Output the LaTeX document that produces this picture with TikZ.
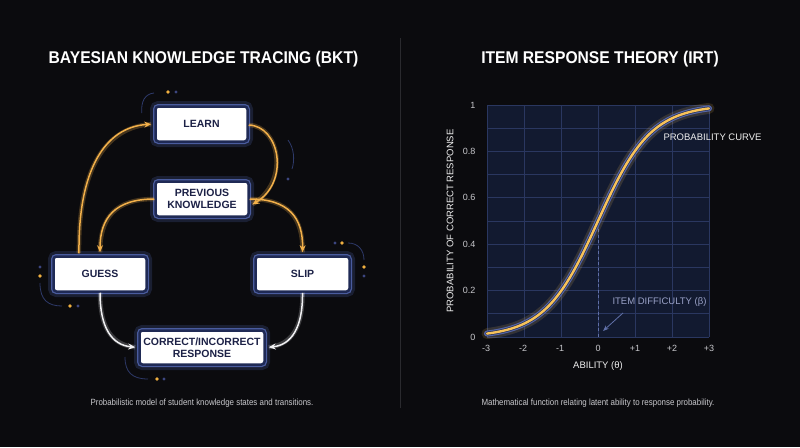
\documentclass[tikz,border=0pt]{standalone}
\usepackage{fontspec}
\setmainfont{Liberation Sans}
\newfontfamily\titlefont{Liberation Sans}[FakeStretch=0.92]
\newfontfamily\capfont{Liberation Sans}[FakeStretch=0.88]
\usetikzlibrary{arrows.meta}
\definecolor{bg}{HTML}{0B0B0E}
\definecolor{boxnavy}{HTML}{1F2A55}
\definecolor{boxrim}{HTML}{4A5C9E}
\definecolor{textnavy}{HTML}{1C2146}
\definecolor{arrorange}{HTML}{F2B04A}
\definecolor{arrwhite}{HTML}{F0F0F2}
\definecolor{dotorange}{HTML}{F0B040}
\definecolor{dotblue}{HTML}{3C4680}
\definecolor{decoline}{HTML}{2E3A6A}
\definecolor{gridfill}{HTML}{121A30}
\definecolor{gridline}{HTML}{2A3760}
\definecolor{labgray}{HTML}{C8C8CC}
\definecolor{dashblue}{HTML}{6070A8}
\definecolor{divider}{HTML}{2A2A2E}
\definecolor{curveblue}{HTML}{5566AA}
\definecolor{curveorange}{HTML}{F7C25A}
\definecolor{difftext}{HTML}{9AA2C8}
\begin{document}
\begin{tikzpicture}[x=1pt,y=-1pt,
  box/.style={rectangle, rounded corners=3pt, fill=white, draw=boxnavy, line width=2.5pt,
    text=textnavy, font=\bfseries\fontsize{10.5}{12.5}\selectfont, align=center, inner sep=0pt,
    preaction={draw=boxrim, draw opacity=0.25, line width=11pt},
    preaction={draw=boxrim, line width=5pt}},
  orangearrow/.style={draw=arrorange, line width=1.5pt, -{Stealth[length=7pt,width=6pt]},
    shorten >=3pt, preaction={draw=arrorange, draw opacity=0.25, line width=4.5pt, -}},
  whitearrow/.style={draw=arrwhite, line width=1.5pt, -{Stealth[length=7pt,width=6pt]},
    shorten >=3pt, preaction={draw=white, draw opacity=0.2, line width=4.5pt, -}},
  deco/.style={draw=decoline, line width=0.8pt},
  odot/.style={fill=dotorange},
  bdot/.style={fill=dotblue},
  title/.style={text=white, font=\titlefont\bfseries\fontsize{17}{20}\selectfont},
  caption/.style={text=labgray, font=\capfont\fontsize{9}{11}\selectfont},
  ticklab/.style={text=labgray, font=\fontsize{9}{11}\selectfont},
  axlab/.style={text=white!88!gray, font=\fontsize{9.5}{11}\selectfont}
]
\fill[bg] (0,0) rectangle (800,447);
\useasboundingbox (0,0) rectangle (800,447);

% divider
\draw[divider, line width=1pt] (400,38) -- (400,408);

% titles
\node[title] (t1) at (203.5,59) {BAYESIAN KNOWLEDGE TRACING (BKT)};
\node[title] (t2) at (600,59) {ITEM RESPONSE THEORY (IRT)};

% captions
\node[caption] (c1) at (202,403) {Probabilistic model of student knowledge states and transitions.};
\node[caption] (c2) at (598,403) {Mathematical function relating latent ability to response probability.};

% ---------------- BKT ----------------
% decorations
\draw[deco] (141.7,113) .. controls (141,101) and (145,94) .. (154,93);
\fill[odot] (168,92) circle (1.8);
\fill[bdot] (176,92) circle (1.6);
\draw[deco] (288,140) .. controls (294,148) and (295,160) .. (292,169);
\fill[bdot] (288,179) circle (1.7);
\fill[bdot] (335,243) circle (1.6);
\fill[odot] (342,243) circle (1.8);
\draw[deco] (348,243) .. controls (358,243) and (364,250) .. (364,260);
\fill[odot] (364,267) circle (1.8);
\fill[bdot] (364,276) circle (1.6);
\fill[bdot] (40,267) circle (1.6);
\fill[odot] (40,276) circle (1.8);
\draw[deco] (40,283) .. controls (40,300) and (48,306) .. (62,306);
\fill[odot] (70,306) circle (1.8);
\fill[bdot] (78,306) circle (1.6);
\draw[deco] (125,357) .. controls (125,372) and (132,379) .. (148,379);
\fill[odot] (157,379) circle (1.8);
\fill[bdot] (164,379) circle (1.6);

% boxes
\node[box, minimum width=92pt, minimum height=35pt] (learn) at (201.5,124) {LEARN};
\node[box, minimum width=93pt, minimum height=35pt] (prev) at (202,199) {PREVIOUS\\KNOWLEDGE};
\node[box, minimum width=93pt, minimum height=35pt] (guess) at (100,274) {GUESS};
\node[box, minimum width=94pt, minimum height=35pt] (slip) at (302.5,274) {SLIP};
\node[box, minimum width=125pt, minimum height=34pt] (resp) at (202,347.5) {CORRECT/INCORRECT\\RESPONSE};

% arrows
\draw[orangearrow] ([xshift=-21pt,yshift=2pt]guess.north) .. controls (78,170) and (105,127) .. (learn.west);
\draw[orangearrow] ([yshift=-1pt]learn.east) .. controls (280,126) and (290,182) .. ([yshift=-7pt]prev.east);
\draw[orangearrow] (prev.west) .. controls (115,199) and (100,218) .. (guess.north);
\draw[orangearrow] (prev.east) .. controls (289,199) and (303,218) .. (slip.north);
\draw[whitearrow] (guess.south) .. controls (100,328) and (112,345) .. (resp.west);
\draw[whitearrow] (slip.south) .. controls (303,328) and (291,345) .. (resp.east);

% ---------------- IRT ----------------
\fill[gridfill] (487,105) rectangle (709,337);
\foreach \i in {0,...,6} {
  \draw[gridline, line width=0.8pt] (487+37*\i,105) -- (487+37*\i,337);
}
\foreach \j in {0,...,10} {
  \draw[gridline, line width=0.8pt] (487,105+23.2*\j) -- (709,105+23.2*\j);
}
% dashed difficulty line
\draw[dashblue, line width=0.9pt, dash pattern=on 3pt off 2.5pt] (598,229) -- (598,337);

% curve
\draw[curveorange, opacity=0.15, line width=11pt, line cap=round]
  plot[domain=-3:3, samples=90] ({598+37*\x}, {337-232/(1+exp(-1.4*\x))});
\draw[curveblue, line width=6pt, line cap=round]
  plot[domain=-3:3, samples=90] ({598+37*\x}, {337-232/(1+exp(-1.4*\x))});
\draw[gridfill!70!curveblue, line width=3.8pt, line cap=round]
  plot[domain=-3:3, samples=90] ({598+37*\x}, {337-232/(1+exp(-1.4*\x))});
\draw[curveorange, line width=2.4pt, line cap=round]
  plot[domain=-3:3, samples=90] ({598+37*\x}, {337-232/(1+exp(-1.4*\x))});

% tick labels
\node[ticklab, anchor=east] (y1) at (479,105) {1};
\node[ticklab, anchor=east] (y08) at (479,151.4) {0.8};
\node[ticklab, anchor=east] (y06) at (479,197.8) {0.6};
\node[ticklab, anchor=east] (y04) at (479,244.2) {0.4};
\node[ticklab, anchor=east] (y02) at (479,290.6) {0.2};
\node[ticklab, anchor=east] (y0) at (479,337) {0};
\node[ticklab] (xm3) at (486,348) {-3};
\node[ticklab] (xm2) at (523,348) {-2};
\node[ticklab] (xm1) at (560,348) {-1};
\node[ticklab] (x0) at (598,348) {0};
\node[ticklab] (xp1) at (635,348) {+1};
\node[ticklab] (xp2) at (672,348) {+2};
\node[ticklab] (xp3) at (709,348) {+3};

% axis titles
\node[axlab] (xtitle) at (598,366) {ABILITY (θ)};
\node[axlab, rotate=90] (ytitle) at (450,221) {PROBABILITY OF CORRECT RESPONSE};

% annotations
\node[axlab, anchor=west] (curvelab) at (660,137) {PROBABILITY CURVE};
\node[text=difftext, font=\fontsize{9.5}{11}\selectfont, anchor=west] (diff) at (609,302) {ITEM DIFFICULTY (β)};
\coordinate (difftip) at (603,331);
\draw[dashblue, line width=0.8pt, -{Stealth[length=6pt,width=4.5pt]}] ([xshift=14pt,yshift=-3pt]diff.south west) -- (difftip);
\end{tikzpicture}
\end{document}
